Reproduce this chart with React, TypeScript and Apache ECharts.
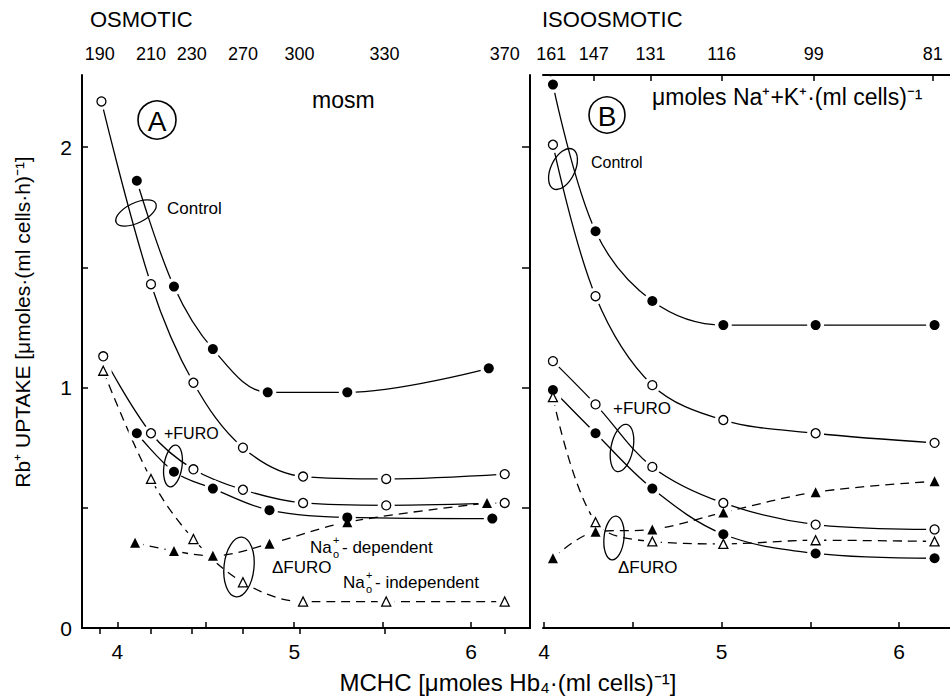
import React, { useEffect, useRef } from "react";
import * as echarts from "echarts";

// ---------- data ----------
// Panel A (osmotic)
const aCtrlFilledX = [4.11, 4.32, 4.54, 4.85, 5.3, 6.1];
const aCtrlFilledY = [1.86, 1.42, 1.16, 0.98, 0.98, 1.08];
const aCtrlOpenX = [3.91, 4.19, 4.43, 4.71, 5.05, 5.52, 6.19];
const aCtrlOpenY = [2.19, 1.43, 1.02, 0.75, 0.63, 0.62, 0.64];
const aFuroOpenX = [3.92, 4.19, 4.43, 4.71, 5.05, 5.52, 6.19];
const aFuroOpenY = [1.13, 0.81, 0.66, 0.575, 0.52, 0.51, 0.52];
const aFuroFilledX = [4.11, 4.32, 4.54, 4.86, 5.3, 6.12];
const aFuroFilledY = [0.81, 0.65, 0.58, 0.49, 0.46, 0.455];
const aNaIndX = [3.92, 4.19, 4.43, 4.71, 5.05, 5.52, 6.19];
const aNaIndY = [1.07, 0.62, 0.37, 0.19, 0.11, 0.11, 0.11];
const aNaDepX = [4.1, 4.32, 4.54, 4.86, 5.3, 6.09];
const aNaDepY = [0.355, 0.32, 0.3, 0.35, 0.44, 0.52];

// Panel B (isoosmotic)
const bX = [4.05, 4.29, 4.61, 5.01, 5.53, 6.2];
const bCtrlFilledY = [2.26, 1.65, 1.36, 1.26, 1.26, 1.26];
const bCtrlOpenY = [2.01, 1.38, 1.01, 0.865, 0.81, 0.77];
const bFuroOpenY = [1.11, 0.93, 0.67, 0.52, 0.43, 0.41];
const bFuroFilledY = [0.99, 0.81, 0.58, 0.39, 0.31, 0.29];
const bNaIndY = [0.96, 0.44, 0.36, 0.35, 0.365, 0.36];
const bNaDepY = [0.29, 0.4, 0.41, 0.48, 0.565, 0.61];

// top axes
const topAPos = [3.9, 4.19, 4.42, 4.71, 5.03, 5.51, 6.19];
const topALabels = ["190", "210", "230", "270", "300", "330", "370"];
const topBPos = [4.04, 4.28, 4.6, 5.0, 5.52, 6.19];
const topBLabels = ["161", "147", "131", "116", "99", "81"];

// bottom / left axes
const xTicks = [4, 4.5, 5, 5.5, 6];
const xLabels = [4, 5, 6];
const yTicks = [0, 0.5, 1, 1.5, 2];
const yLabels = [0, 1, 2];

const FONT = '"Liberation Sans", Arial, sans-serif';

type Kind = "filledCircle" | "openCircle" | "filledTri" | "openTri";

function zip(xs: number[], ys: number[]) {
  return xs.map((x, i) => [x, ys[i]]);
}

function curve(
  panel: number,
  xs: number[],
  ys: number[],
  kind: Kind,
  dashed: boolean
) {
  const data = zip(xs, ys);
  const axes = { xAxisIndex: panel * 2, yAxisIndex: panel === 0 ? 0 : 2 };
  const symbol = kind === "filledCircle" || kind === "openCircle" ? "circle" : "triangle";
  const filled = kind === "filledCircle" || kind === "filledTri";
  return [
    {
      type: "line",
      ...axes,
      data,
      smooth: 0.35,
      showSymbol: false,
      z: 2,
      lineStyle: { color: "#000", width: 1.3, type: dashed ? [9, 6] : "solid" },
    },
    {
      type: "scatter",
      ...axes,
      data,
      symbol: "circle",
      symbolSize: 17,
      z: 3,
      itemStyle: { color: "#fff", opacity: 1 },
    },
    {
      type: "scatter",
      ...axes,
      data,
      symbol,
      symbolSize: filled ? 10 : 9,
      z: 4,
      itemStyle: filled
        ? { color: "#000", opacity: 1 }
        : { color: "#fff", borderColor: "#000", borderWidth: 1.3, opacity: 1 },
    },
  ];
}

function txt(x: number, y: number, text: string, size: number, align = "left", extra: any = {}) {
  return {
    type: "text",
    x,
    y,
    z: 10,
    ...extra,
    style: {
      text,
      fontSize: size,
      fontFamily: FONT,
      fill: "#000",
      textAlign: align,
      textVerticalAlign: "middle",
      align,
      verticalAlign: "middle",
    },
  };
}

function ell(cx: number, cy: number, rx: number, ry: number, rot: number) {
  return {
    type: "ellipse",
    x: cx,
    y: cy,
    rotation: rot,
    z: 10,
    shape: { cx: 0, cy: 0, rx, ry },
    style: { fill: "none", stroke: "#000", lineWidth: 1.3 },
  };
}

function naLabel(x: number, y: number, rest: string) {
  return [
    txt(x, y, "Na", 17),
    txt(x + 23, y - 7, "+", 11),
    txt(x + 23, y + 7, "o", 11),
    txt(x + 32, y, rest, 17),
  ];
}

function labelFor(pos: number[], labels: string[]) {
  return (v: number) => {
    const i = pos.findIndex((p) => Math.abs(p - v) < 1e-6);
    return i >= 0 ? labels[i] : "";
  };
}

export default function App() {
  const ref = useRef<HTMLDivElement>(null);

  useEffect(() => {
    if (!ref.current) return;
    const chart = echarts.init(ref.current, undefined, { renderer: "svg" });
    const axisLine = { show: true, lineStyle: { color: "#000", width: 2 } };
    const tickStyle = { color: "#000", width: 1.5 };
    const labelStyle = { color: "#000", fontFamily: FONT };

    const bottomX = (grid: number, min: number, max: number) => ({
      type: "value",
      gridIndex: grid,
      position: "bottom",
      min,
      max,
      axisLine,
      splitLine: { show: false },
      axisTick: { show: true, inside: true, length: 6, customValues: xTicks, lineStyle: tickStyle },
      axisLabel: { ...labelStyle, fontSize: 21, margin: 13, customValues: xLabels },
    });
    const topX = (grid: number, min: number, max: number, pos: number[], labels: string[]) => ({
      type: "value",
      gridIndex: grid,
      position: "top",
      min,
      max,
      axisLine,
      splitLine: { show: false },
      axisTick: { show: true, inside: true, length: 6, customValues: pos, lineStyle: tickStyle },
      axisLabel: { ...labelStyle, fontSize: 18, margin: 12, customValues: pos, formatter: labelFor(pos, labels) },
    });

    const option: any = {
      animation: false,
      backgroundColor: "#fff",
      grid: [
        { left: 82, top: 75, width: 448, height: 553 },
        { left: 543, top: 75, width: 407, height: 553 },
      ],
      xAxis: [
        bottomX(0, 3.8, 6.333),
        topX(0, 3.8, 6.333, topAPos, topALabels),
        bottomX(1, 3.994, 6.287),
        topX(1, 3.994, 6.287, topBPos, topBLabels),
      ],
      yAxis: [
        {
          type: "value",
          gridIndex: 0,
          position: "left",
          min: 0,
          max: 2.3,
          axisLine,
          splitLine: { show: false },
          axisTick: { show: true, inside: true, length: 6, customValues: yTicks, lineStyle: tickStyle },
          axisLabel: { ...labelStyle, fontSize: 21, margin: 10, customValues: yLabels },
        },
        {
          type: "value",
          gridIndex: 0,
          position: "right",
          min: 0,
          max: 2.3,
          axisLine,
          splitLine: { show: false },
          axisTick: { show: true, inside: true, length: 8, customValues: yTicks, lineStyle: tickStyle },
          axisLabel: { show: false },
        },
        { type: "value", gridIndex: 1, min: 0, max: 2.3, show: false },
      ],
      series: [
        ...curve(0, aCtrlFilledX, aCtrlFilledY, "filledCircle", false),
        ...curve(0, aCtrlOpenX, aCtrlOpenY, "openCircle", false),
        ...curve(0, aFuroOpenX, aFuroOpenY, "openCircle", false),
        ...curve(0, aFuroFilledX, aFuroFilledY, "filledCircle", false),
        ...curve(0, aNaIndX, aNaIndY, "openTri", true),
        ...curve(0, aNaDepX, aNaDepY, "filledTri", true),
        ...curve(1, bX, bCtrlFilledY, "filledCircle", false),
        ...curve(1, bX, bCtrlOpenY, "openCircle", false),
        ...curve(1, bX, bFuroOpenY, "openCircle", false),
        ...curve(1, bX, bFuroFilledY, "filledCircle", false),
        ...curve(1, bX, bNaIndY, "openTri", true),
        ...curve(1, bX, bNaDepY, "filledTri", true),
      ],
      graphic: [
        txt(90, 19, "OSMOTIC", 22),
        txt(542, 19, "ISOOSMOTIC", 22),
        txt(312, 100, "mosm", 23),
        txt(652, 97, "μmoles Na⁺+K⁺·(ml cells)⁻¹", 23),
        { type: "circle", x: 157, y: 120, z: 10, shape: { cx: 0, cy: 0, r: 19 }, style: { fill: "none", stroke: "#000", lineWidth: 1.6 } },
        txt(157, 121, "A", 28, "center"),
        { type: "circle", x: 607, y: 115, z: 10, shape: { cx: 0, cy: 0, r: 18 }, style: { fill: "none", stroke: "#000", lineWidth: 1.6 } },
        txt(607, 116, "B", 28, "center"),
        txt(167, 208, "Control", 17),
        ell(136, 213, 22, 10, 0.45),
        txt(164, 433, "+FURO", 16),
        ell(173, 466, 9, 21, -0.15),
        txt(272, 567, "ΔFURO", 17),
        ell(239, 567, 15, 30, -0.1),
        ...naLabel(310, 547, "- dependent"),
        ...naLabel(343, 582, "- independent"),
        txt(591, 162, "Control", 16),
        ell(563, 169, 12, 22, -0.45),
        txt(613, 408, "+FURO", 17),
        ell(622, 448, 11, 24, -0.2),
        txt(618, 567, "ΔFURO", 17),
        ell(614, 538, 10, 22, -0.1),
        txt(22, 322, "Rb⁺ UPTAKE [μmoles·(ml cells·h)⁻¹]", 21, "center", { rotation: Math.PI / 2 }),
        txt(508, 682, "MCHC [μmoles Hb₄·(ml cells)⁻¹]", 24, "center"),
      ],
    };
    chart.setOption(option);
    return () => chart.dispose();
  }, []);

  return (
    <div
      ref={ref}
      style={{ position: "fixed", left: 0, top: 0, width: 950, height: 699, background: "#fff" }}
    />
  );
}
